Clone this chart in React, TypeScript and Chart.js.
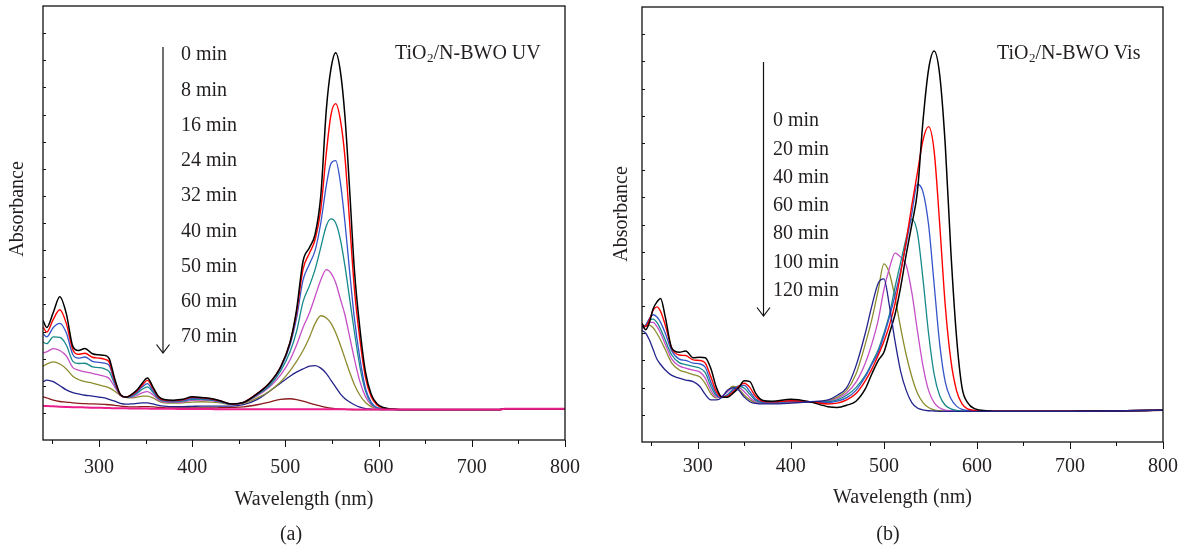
import React, { useEffect, useRef } from "react";
import { Chart, registerables } from "chart.js";

Chart.register(...registerables);

const FONT = '"Liberation Serif", "Times New Roman", serif';
const TEXT = "#231f20";

// ---------- shared axes ----------
const xMajorTicks = [300, 400, 500, 600, 700, 800];
const xMinorTicks = [250, 350, 450, 550, 650, 750];
const xMin = 240;
const xMax = 800;
const yMin = 0;
const yMax = 1.6;
const yStep = 0.1;
const xTitle = "Wavelength (nm)";
const yTitle = "Absorbance";

// ---------- panel (a): TiO2/N-BWO UV ----------
const wavelengthA = [240, 244, 251, 258, 265, 272, 278, 285, 293, 300, 306, 311, 317, 323, 329, 335, 341, 347, 352, 358, 364, 370, 380, 390, 400, 410, 420, 430, 442, 455, 470, 483, 495, 505, 512, 519, 526, 532, 538, 544, 549, 554, 559, 564, 569, 574, 580, 586, 592, 598, 605, 615, 630, 700, 730, 735, 800];
const a0min = [0.441, 0.415, 0.47, 0.528, 0.466, 0.345, 0.33, 0.337, 0.318, 0.314, 0.312, 0.30, 0.225, 0.168, 0.158, 0.168, 0.185, 0.212, 0.229, 0.195, 0.16, 0.149, 0.147, 0.150, 0.159, 0.157, 0.153, 0.145, 0.133, 0.138, 0.171, 0.21, 0.27, 0.36, 0.48, 0.66, 0.71, 0.76, 0.90, 1.22, 1.37, 1.428, 1.36, 1.19, 0.92, 0.63, 0.41, 0.25, 0.17, 0.135, 0.12, 0.114, 0.112, 0.112, 0.112, 0.115, 0.115];
const a8min = [0.417, 0.398, 0.445, 0.48, 0.43, 0.333, 0.316, 0.32, 0.305, 0.302, 0.298, 0.287, 0.218, 0.166, 0.158, 0.166, 0.182, 0.205, 0.22, 0.19, 0.158, 0.147, 0.145, 0.148, 0.157, 0.156, 0.152, 0.144, 0.133, 0.139, 0.172, 0.21, 0.27, 0.36, 0.47, 0.63, 0.69, 0.74, 0.85, 1.06, 1.2, 1.24, 1.18, 1.04, 0.80, 0.56, 0.37, 0.23, 0.16, 0.13, 0.118, 0.113, 0.112, 0.112, 0.112, 0.115, 0.115];
const a16min = [0.392, 0.38, 0.415, 0.43, 0.395, 0.315, 0.302, 0.306, 0.29, 0.286, 0.283, 0.275, 0.21, 0.165, 0.158, 0.163, 0.177, 0.197, 0.208, 0.182, 0.155, 0.145, 0.143, 0.146, 0.153, 0.153, 0.149, 0.142, 0.132, 0.139, 0.17, 0.207, 0.265, 0.35, 0.45, 0.59, 0.65, 0.7, 0.8, 0.94, 1.02, 1.03, 0.95, 0.8, 0.62, 0.45, 0.3, 0.19, 0.14, 0.12, 0.115, 0.113, 0.112, 0.112, 0.112, 0.115, 0.115];
const a24min = [0.361, 0.355, 0.38, 0.378, 0.35, 0.29, 0.282, 0.283, 0.27, 0.267, 0.262, 0.252, 0.205, 0.165, 0.158, 0.16, 0.172, 0.188, 0.196, 0.176, 0.152, 0.143, 0.141, 0.143, 0.15, 0.15, 0.147, 0.141, 0.132, 0.138, 0.167, 0.2, 0.255, 0.325, 0.4, 0.51, 0.57, 0.63, 0.71, 0.79, 0.815, 0.8, 0.74, 0.64, 0.52, 0.4, 0.27, 0.18, 0.135, 0.12, 0.115, 0.113, 0.112, 0.112, 0.112, 0.115, 0.115];
const a32min = [0.321, 0.325, 0.337, 0.33, 0.31, 0.267, 0.258, 0.251, 0.246, 0.24, 0.235, 0.227, 0.195, 0.165, 0.157, 0.157, 0.165, 0.175, 0.178, 0.167, 0.148, 0.14, 0.139, 0.14, 0.146, 0.147, 0.145, 0.14, 0.132, 0.137, 0.163, 0.195, 0.24, 0.295, 0.35, 0.415, 0.47, 0.53, 0.59, 0.628, 0.615, 0.58, 0.52, 0.46, 0.38, 0.30, 0.215, 0.16, 0.13, 0.117, 0.114, 0.113, 0.112, 0.112, 0.112, 0.115, 0.115];
const a40min = [0.272, 0.28, 0.288, 0.28, 0.262, 0.235, 0.223, 0.215, 0.21, 0.203, 0.198, 0.192, 0.18, 0.165, 0.157, 0.155, 0.158, 0.162, 0.162, 0.155, 0.143, 0.137, 0.136, 0.137, 0.14, 0.141, 0.14, 0.137, 0.131, 0.135, 0.155, 0.18, 0.215, 0.255, 0.29, 0.33, 0.38, 0.43, 0.458, 0.45, 0.43, 0.395, 0.35, 0.30, 0.25, 0.205, 0.165, 0.138, 0.123, 0.116, 0.114, 0.113, 0.112, 0.112, 0.112, 0.115, 0.115];
const a50min = [0.214, 0.221, 0.215, 0.2, 0.185, 0.175, 0.17, 0.165, 0.162, 0.158, 0.155, 0.15, 0.143, 0.135, 0.132, 0.133, 0.135, 0.137, 0.137, 0.133, 0.128, 0.125, 0.123, 0.123, 0.124, 0.125, 0.125, 0.125, 0.125, 0.13, 0.15, 0.18, 0.21, 0.235, 0.25, 0.262, 0.272, 0.274, 0.265, 0.245, 0.22, 0.195, 0.17, 0.152, 0.14, 0.13, 0.121, 0.116, 0.114, 0.113, 0.112, 0.112, 0.112, 0.112, 0.112, 0.115, 0.115];
const a60min = [0.159, 0.155, 0.147, 0.142, 0.14, 0.137, 0.135, 0.134, 0.133, 0.132, 0.131, 0.13, 0.128, 0.125, 0.123, 0.122, 0.122, 0.123, 0.123, 0.122, 0.12, 0.119, 0.118, 0.118, 0.118, 0.118, 0.118, 0.119, 0.12, 0.122, 0.13, 0.14, 0.15, 0.152, 0.149, 0.143, 0.136, 0.13, 0.125, 0.12, 0.117, 0.115, 0.114, 0.113, 0.113, 0.112, 0.112, 0.112, 0.112, 0.112, 0.112, 0.112, 0.112, 0.112, 0.112, 0.115, 0.115];
const a70min = [0.126, 0.125, 0.124, 0.123, 0.122, 0.121, 0.121, 0.12, 0.119, 0.119, 0.118, 0.118, 0.117, 0.117, 0.117, 0.116, 0.116, 0.116, 0.116, 0.115, 0.115, 0.115, 0.115, 0.114, 0.114, 0.114, 0.114, 0.113, 0.113, 0.113, 0.113, 0.113, 0.113, 0.113, 0.113, 0.113, 0.113, 0.113, 0.113, 0.113, 0.113, 0.113, 0.113, 0.113, 0.112, 0.112, 0.112, 0.112, 0.112, 0.112, 0.112, 0.112, 0.112, 0.112, 0.112, 0.115, 0.115];
const timeLabelsA = ["0 min", "8 min", "16 min", "24 min", "32 min", "40 min", "50 min", "60 min", "70 min"];
const colorsA = ["#000000", "#ff0000", "#3454c8", "#17898a", "#c64fc6", "#8c8c2e", "#23238c", "#8b1a1a", "#ec1e8c"];
const sampleTitleA = ["TiO", "2", "/N-BWO UV"];
const captionA = "(a)";

// ---------- panel (b): TiO2/N-BWO Vis ----------
const wavelengthB = [240, 244, 248, 252, 256, 260, 265, 272, 280, 287, 295, 302, 308, 314, 320, 326, 332, 338, 344, 350, 356, 362, 370, 380, 400, 420, 440, 450, 460, 470, 480, 487, 494, 500, 506, 512, 518, 524, 530, 536, 542, 548, 554, 560, 566, 572, 578, 584, 590, 598, 610, 630, 700, 740, 800];
const b0min = [0.437, 0.413, 0.44, 0.49, 0.515, 0.528, 0.46, 0.345, 0.33, 0.335, 0.31, 0.312, 0.31, 0.27, 0.2, 0.165, 0.165, 0.18, 0.2, 0.225, 0.222, 0.18, 0.153, 0.15, 0.157, 0.148, 0.13, 0.127, 0.135, 0.15, 0.195, 0.25, 0.3, 0.33, 0.4, 0.47, 0.57, 0.69, 0.8, 0.92, 1.18, 1.37, 1.438, 1.35, 1.09, 0.70, 0.39, 0.2, 0.145, 0.122, 0.115, 0.113, 0.113, 0.114, 0.117];
const b20min = [0.43, 0.425, 0.45, 0.485, 0.497, 0.48, 0.43, 0.345, 0.32, 0.318, 0.302, 0.3, 0.29, 0.24, 0.185, 0.165, 0.168, 0.185, 0.205, 0.216, 0.2, 0.168, 0.15, 0.148, 0.152, 0.148, 0.14, 0.143, 0.155, 0.178, 0.225, 0.268, 0.32, 0.37, 0.43, 0.51, 0.62, 0.74, 0.87, 0.99, 1.11, 1.16, 1.07, 0.8, 0.5, 0.3, 0.19, 0.14, 0.122, 0.116, 0.114, 0.113, 0.113, 0.114, 0.117];
const b40min = [0.425, 0.43, 0.455, 0.468, 0.46, 0.44, 0.4, 0.335, 0.305, 0.3, 0.29, 0.287, 0.275, 0.22, 0.175, 0.163, 0.172, 0.19, 0.205, 0.208, 0.185, 0.158, 0.147, 0.145, 0.15, 0.147, 0.145, 0.15, 0.163, 0.19, 0.24, 0.285, 0.33, 0.39, 0.46, 0.54, 0.63, 0.73, 0.84, 0.948, 0.92, 0.8, 0.58, 0.36, 0.22, 0.16, 0.132, 0.12, 0.116, 0.114, 0.113, 0.113, 0.113, 0.114, 0.117];
const b60min = [0.42, 0.43, 0.45, 0.452, 0.44, 0.415, 0.375, 0.32, 0.292, 0.285, 0.278, 0.272, 0.255, 0.205, 0.17, 0.165, 0.175, 0.195, 0.205, 0.198, 0.175, 0.153, 0.145, 0.144, 0.149, 0.147, 0.148, 0.155, 0.172, 0.2, 0.245, 0.29, 0.34, 0.4, 0.47, 0.57, 0.66, 0.75, 0.82, 0.77, 0.6, 0.4, 0.25, 0.17, 0.135, 0.122, 0.116, 0.114, 0.113, 0.113, 0.113, 0.113, 0.113, 0.114, 0.117];
const b80min = [0.415, 0.43, 0.44, 0.44, 0.425, 0.4, 0.36, 0.305, 0.28, 0.272, 0.264, 0.258, 0.235, 0.19, 0.165, 0.168, 0.185, 0.2, 0.2, 0.185, 0.163, 0.148, 0.143, 0.143, 0.147, 0.147, 0.15, 0.16, 0.18, 0.22, 0.29, 0.36, 0.45, 0.56, 0.64, 0.695, 0.68, 0.65, 0.55, 0.41, 0.28, 0.19, 0.145, 0.125, 0.117, 0.115, 0.114, 0.113, 0.113, 0.113, 0.113, 0.113, 0.113, 0.114, 0.117];
const b100min = [0.425, 0.425, 0.43, 0.42, 0.4, 0.375, 0.34, 0.29, 0.265, 0.257, 0.248, 0.24, 0.215, 0.178, 0.162, 0.168, 0.19, 0.205, 0.195, 0.172, 0.155, 0.145, 0.142, 0.142, 0.145, 0.147, 0.152, 0.165, 0.19, 0.25, 0.36, 0.45, 0.56, 0.655, 0.62, 0.53, 0.42, 0.32, 0.24, 0.18, 0.145, 0.127, 0.118, 0.115, 0.114, 0.113, 0.113, 0.113, 0.113, 0.113, 0.113, 0.113, 0.113, 0.114, 0.117];
const b120min = [0.41, 0.4, 0.375, 0.34, 0.305, 0.285, 0.265, 0.245, 0.235, 0.228, 0.222, 0.205, 0.175, 0.155, 0.155, 0.165, 0.19, 0.2, 0.19, 0.165, 0.148, 0.142, 0.14, 0.14, 0.143, 0.148, 0.155, 0.172, 0.2, 0.28, 0.4, 0.5, 0.585, 0.6, 0.5, 0.37, 0.26, 0.19, 0.145, 0.125, 0.118, 0.115, 0.114, 0.113, 0.113, 0.113, 0.113, 0.113, 0.113, 0.113, 0.113, 0.113, 0.113, 0.114, 0.117];
const timeLabelsB = ["0 min", "20 min", "40 min", "60 min", "80 min", "100 min", "120 min"];
const colorsB = ["#000000", "#ff0000", "#3454c8", "#17898a", "#c64fc6", "#8c8c2e", "#23238c"];
const sampleTitleB = ["TiO", "2", "/N-BWO Vis"];
const captionB = "(b)";

type Layout = {
  left: number;
  width: number;
  areaLeft: number;
  areaTop: number;
  areaRight: number;
  areaBottom: number;
  tickPad: number;
  titlePadBottom: number;
  labelX: number;
  labelY0: number;
  labelStep: number;
  arrowX: number;
  arrowTop: number;
  arrowBottom: number;
  sampleX: number;
  sampleY: number;
  yTitleX: number;
  yTitleY: number;
  captionX: number;
  captionY: number;
};

type PanelProps = {
  wl: number[];
  series: number[][];
  labels: string[];
  colors: string[];
  widths: number[];
  orders: number[];
  sample: string[];
  caption: string;
  lay: Layout;
};

function Panel({ wl, series, labels, colors, widths, orders, sample, caption, lay }: PanelProps) {
  const ref = useRef<HTMLCanvasElement>(null);
  useEffect(() => {
    const canvas = ref.current;
    if (!canvas) return;
    const annot = {
      id: "annot",
      afterDraw(chart: any) {
        const { ctx, chartArea: ca } = chart;
        const xs = chart.scales.x;
        const ys = chart.scales.y;
        ctx.save();
        ctx.strokeStyle = "#111";
        ctx.lineWidth = 1.3;
        ctx.strokeRect(ca.left, ca.top, ca.right - ca.left, ca.bottom - ca.top);
        ctx.lineWidth = 1;
        const seg = (x1: number, y1: number, x2: number, y2: number) => {
          ctx.beginPath();
          ctx.moveTo(x1, y1);
          ctx.lineTo(x2, y2);
          ctx.stroke();
        };
        xMajorTicks.forEach((v) => {
          const px = Math.round(xs.getPixelForValue(v)) + 0.5;
          seg(px, ca.bottom, px, ca.bottom + 7);
        });
        xMinorTicks.forEach((v) => {
          const px = Math.round(xs.getPixelForValue(v)) + 0.5;
          seg(px, ca.bottom, px, ca.bottom + 4);
        });
        ys.ticks.forEach((t: any) => {
          if (t.value <= yMin + 1e-6 || t.value >= yMax - 1e-6) return;
          const py = Math.round(ys.getPixelForValue(t.value)) + 0.5;
          seg(ca.left, py, ca.left + 3, py);
        });
        // arrow
        const ax = lay.arrowX - lay.left;
        ctx.lineWidth = 1.2;
        seg(ax, lay.arrowTop, ax, lay.arrowBottom);
        ctx.beginPath();
        ctx.moveTo(ax - 6.5, lay.arrowBottom - 8.5);
        ctx.lineTo(ax, lay.arrowBottom);
        ctx.lineTo(ax + 6.5, lay.arrowBottom - 8.5);
        ctx.stroke();
        // time labels
        ctx.fillStyle = TEXT;
        ctx.font = `20px ${FONT}`;
        ctx.textAlign = "left";
        ctx.textBaseline = "middle";
        labels.forEach((s, i) => {
          ctx.fillText(s, lay.labelX - lay.left, lay.labelY0 + i * lay.labelStep);
        });
        // sample title with subscript
        ctx.textBaseline = "alphabetic";
        let cx = lay.sampleX - lay.left;
        ctx.font = `20px ${FONT}`;
        ctx.fillText(sample[0], cx, lay.sampleY);
        cx += ctx.measureText(sample[0]).width;
        ctx.font = `13px ${FONT}`;
        ctx.fillText(sample[1], cx + 0.5, lay.sampleY + 3);
        cx += ctx.measureText(sample[1]).width + 0.5;
        ctx.font = `20px ${FONT}`;
        ctx.fillText(sample[2], cx, lay.sampleY);
        // y title
        ctx.save();
        ctx.translate(lay.yTitleX - lay.left, lay.yTitleY);
        ctx.rotate(-Math.PI / 2);
        ctx.textAlign = "center";
        ctx.textBaseline = "middle";
        ctx.fillText(yTitle, 0, 0);
        ctx.restore();
        // caption
        ctx.textAlign = "center";
        ctx.textBaseline = "middle";
        ctx.fillText(caption, lay.captionX - lay.left, lay.captionY);
        ctx.restore();
      },
    };

    const chart = new Chart(canvas, {
      type: "line",
      data: {
        datasets: series.map((ys, i) => ({
          label: labels[i],
          data: wl.map((x, j) => ({ x, y: ys[j] })),
          borderColor: colors[i],
          backgroundColor: colors[i],
          borderWidth: widths[i],
          pointRadius: 0,
          fill: false,
          cubicInterpolationMode: "monotone" as const,
          order: orders[i],
        })),
      },
      options: {
        animation: false,
        responsive: false,
        maintainAspectRatio: false,
        events: [],
        layout: {
          padding: { left: 0, top: lay.areaTop, right: lay.width - lay.areaRight, bottom: 0 },
        },
        plugins: {
          legend: { display: false },
          tooltip: { enabled: false },
          title: { display: false },
        },
        scales: {
          x: {
            type: "linear",
            min: xMin,
            max: xMax,
            grid: { display: false, drawTicks: false },
            border: { display: false },
            ticks: {
              color: TEXT,
              font: { family: FONT, size: 20 },
              padding: lay.tickPad,
              maxRotation: 0,
              autoSkip: false,
            },
            afterBuildTicks: (scale: any) => {
              scale.ticks = xMajorTicks.map((v) => ({ value: v }));
            },
            afterFit: (scale: any) => {
              scale.height = 550 - lay.areaBottom;
            },
            title: {
              display: true,
              text: xTitle,
              color: TEXT,
              font: { family: FONT, size: 20 },
              padding: { top: 0, bottom: lay.titlePadBottom },
            },
          },
          y: {
            type: "linear",
            min: yMin,
            max: yMax,
            grid: { display: false, drawTicks: false },
            border: { display: false },
            ticks: { display: false, stepSize: yStep },
            afterFit: (scale: any) => {
              scale.width = lay.areaLeft;
            },
          },
        },
      },
      plugins: [annot],
    } as any);
    return () => chart.destroy();
  }, []);
  return (
    <canvas
      ref={ref}
      width={lay.width}
      height={550}
      style={{ position: "absolute", left: lay.left, top: 0, width: lay.width, height: 550 }}
    />
  );
}

const layoutA: Layout = {
  left: 0,
  width: 596,
  areaLeft: 43,
  areaTop: 6,
  areaRight: 572,
  areaBottom: 440,
  tickPad: 16,
  titlePadBottom: 38,
  labelX: 181,
  labelY0: 55,
  labelStep: 35.25,
  arrowX: 163,
  arrowTop: 47,
  arrowBottom: 353,
  sampleX: 395,
  sampleY: 59,
  yTitleX: 18,
  yTitleY: 209,
  captionX: 291,
  captionY: 535,
};

const layoutB: Layout = {
  left: 596,
  width: 595,
  areaLeft: 46,
  areaTop: 7,
  areaRight: 576,
  areaBottom: 442,
  tickPad: 13,
  titlePadBottom: 40,
  labelX: 773,
  labelY0: 121,
  labelStep: 28.3,
  arrowX: 763.5,
  arrowTop: 62,
  arrowBottom: 316,
  sampleX: 997,
  sampleY: 59,
  yTitleX: 622,
  yTitleY: 214,
  captionX: 888,
  captionY: 535,
};

export default function App() {
  return (
    <div style={{ position: "fixed", left: 0, top: 0, width: 1191, height: 550, background: "#ffffff", overflow: "hidden" }}>
      <Panel
        wl={wavelengthA}
        series={[a0min, a8min, a16min, a24min, a32min, a40min, a50min, a60min, a70min]}
        labels={timeLabelsA}
        colors={colorsA}
        widths={[1.5, 1.4, 1.3, 1.3, 1.3, 1.3, 1.3, 1.3, 2]}
        orders={[0, 1, 2, 3, 4, 5, 6, 7, -1]}
        sample={sampleTitleA}
        caption={captionA}
        lay={layoutA}
      />
      <Panel
        wl={wavelengthB}
        series={[b0min, b20min, b40min, b60min, b80min, b100min, b120min]}
        labels={timeLabelsB}
        colors={colorsB}
        widths={[1.5, 1.4, 1.3, 1.3, 1.3, 1.3, 1.3]}
        orders={[0, 1, 2, 3, 4, 5, -1]}
        sample={sampleTitleB}
        caption={captionB}
        lay={layoutB}
      />
    </div>
  );
}
